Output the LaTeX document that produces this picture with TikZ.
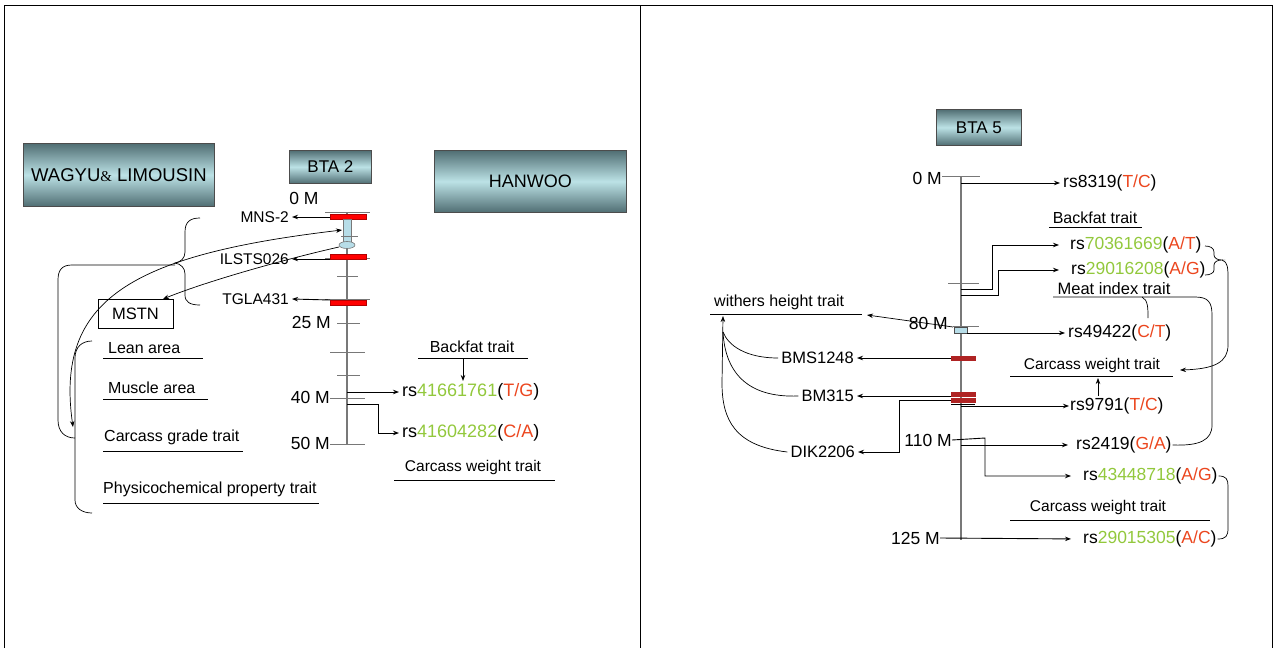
\documentclass[tikz,border=0pt]{standalone}
\usepackage{fontspec}
\setmainfont{Liberation Sans}
\newfontfamily\serifamp{Liberation Serif}
\usetikzlibrary{arrows.meta}
\definecolor{boxdark}{RGB}{80,110,115}
\definecolor{boxlight}{RGB}{188,226,230}
\definecolor{chrgray}{RGB}{120,120,120}
\definecolor{lblue}{RGB}{183,221,232}
\definecolor{darkbar}{RGB}{175,35,35}
\definecolor{snpgreen}{RGB}{146,200,60}
\definecolor{snpred}{RGB}{235,70,30}
\newcommand{\Gn}[1]{\textcolor{snpgreen}{#1}}
\newcommand{\Rd}[1]{\textcolor{snpred}{#1}}
\tikzset{
  gbox/.style={draw=black!70, line width=0.8pt, top color=boxdark, bottom color=boxdark, middle color=boxlight, anchor=north west, inner sep=0pt, font=\fontsize{17}{19}\selectfont},
  chr/.style={draw=chrgray, line width=1.3pt},
  tick/.style={draw=chrgray, line width=1pt},
  conn/.style={draw=black, line width=0.9pt},
  arr/.style={conn, -{Stealth[length=6pt,width=4.5pt]}},
  arrb/.style={conn, {Stealth[length=6pt,width=4.5pt]}-{Stealth[length=6pt,width=4.5pt]}},
  lbl/.style={inner sep=0pt, font=\fontsize{16}{18}\selectfont},
  mlbl/.style={inner xsep=3pt, inner ysep=0pt, font=\fontsize{15.5}{17}\selectfont},
  mk/.style={inner sep=0pt, font=\fontsize{17.5}{19}\selectfont},
  rs/.style={inner xsep=3pt, inner ysep=0pt, font=\fontsize{18}{20}\selectfont},
  rsr/.style={inner xsep=1pt, inner ysep=0pt, font=\fontsize{17.5}{19}\selectfont},
  uline/.style={draw=black, line width=0.8pt}
}
\begin{document}
\begin{tikzpicture}[x=1pt,y=-1pt]
\useasboundingbox (0,0) rectangle (1276,648);
% frame
\draw[line width=0.9pt] (4,648) -- (4,5) -- (1272,5) -- (1272,648);
\draw[line width=0.9pt] (640,5) -- (640,648);

% ---------------- LEFT PANEL ----------------
\node[gbox, minimum width=191pt, minimum height=63pt, font=\fontsize{18.5}{20}\selectfont] (wagyu) at (23,143) {WAGYU{\serifamp\fontsize{15}{16}\selectfont\&} LIMOUSIN};
\node[gbox, minimum width=82pt, minimum height=33pt] (bta2) at (289,150) {BTA 2};
\node[gbox, minimum width=192pt, minimum height=62pt, font=\fontsize{18}{20}\selectfont] (hanwoo) at (434,150) {HANWOO};

% chromosome BTA2
\draw[chr] (347,212) -- (347,444);
\draw[tick] (325,212) -- (370,212);
\draw[tick] (325,258) -- (370,258);
\draw[tick] (325,299) -- (370,299);
\draw[tick] (337,276) -- (358,276);
\draw[tick] (337,323) -- (360,323);
\draw[tick] (330,352) -- (365,352);
\draw[tick] (337,375) -- (360,375);
\draw[tick] (330,398) -- (365,398);
\draw[tick] (330,444) -- (365,444);
\filldraw[fill=red, draw=red!70!black, line width=0.4pt] (330,214) rectangle (366,219);
\filldraw[fill=red, draw=red!70!black, line width=0.4pt] (330,254) rectangle (366,259);
\filldraw[fill=red, draw=red!70!black, line width=0.4pt] (330,300) rectangle (366,305);
\filldraw[fill=lblue, draw=chrgray, line width=0.6pt] (343,219) rectangle (351,242);
\draw[tick] (341,236) -- (358,236);
\filldraw[fill=lblue, draw=chrgray, line width=0.6pt] (347,245) ellipse [x radius=8, y radius=3.5];
\coordinate (ell) at (339,247);
\coordinate (bar) at (342,230);

% position labels
\node[mk] (m0) at (304,198) {0 M};
\node[mk, anchor=east] (m25) at (331,322) {25 M};
\node[mk, anchor=east] (m40) at (330,397) {40 M};
\node[mk, anchor=east] (m50) at (330,443) {50 M};

% markers
\node[mlbl, anchor=east] (mns) at (292,217) {MNS-2};
\node[mlbl, anchor=east] (ilsts) at (292,259) {ILSTS026};
\node[mlbl, anchor=east] (tgla) at (292,299) {TGLA431};
\draw[arr] (330,217) -- (mns.east);
\draw[arr] (330,259) -- (ilsts.east);
\draw[arr] (330,300) -- (tgla.east);

% SNPs
\node[rs, anchor=west] (rsA) at (399,392) {rs\Gn{41661761}(\Rd{T/G})};
\node[rs, anchor=west] (rsB) at (399,433) {rs\Gn{41604282}(\Rd{C/A})};
\draw[arr] (347,392) -- (rsA.west);
\draw[arr] (347,404) -- (378,404) -- (378,433) -- (rsB.west);

\node[lbl] (bfL) at (472,347) {Backfat trait};
\draw[uline] (418,358) -- (528,358);
\coordinate (bfLu) at (463,359);
\coordinate (bfLt) at (463,381);
\draw[arr] (bfLu) -- (bfLt);
\node[lbl, font=\fontsize{15.5}{17}\selectfont] (cwL) at (473,467) {Carcass weight trait};
\draw[uline] (394,480) -- (555,480);

% MSTN and traits
\node[draw, line width=0.8pt, minimum width=75pt, minimum height=29pt, inner sep=0pt, font=\fontsize{16.5}{18}\selectfont] (mstn) at (135.5,313.5) {MSTN};
\coordinate (mstnt) at (163,299);
\node[lbl, anchor=west] (lean) at (108,348) {Lean area};
\draw[uline] (103,358) -- (203,358);
\node[lbl, anchor=west] (muscle) at (108,388) {Muscle area};
\draw[uline] (103,399) -- (208,399);
\node[lbl, anchor=west] (cgrade) at (104,437) {Carcass grade trait};
\draw[uline] (103,451) -- (243,451);
\node[lbl, anchor=west] (phys) at (103,489) {Physicochemical property trait};
\draw[uline] (103,503) -- (319,503);

% braces and brackets
\draw[conn, line width=0.7pt] (200,218) .. controls (190,218) and (185,222) .. (185,232) -- (185,252) .. controls (185,258) and (181,262) .. (175,263) .. controls (181,264) and (185,268) .. (185,274) -- (185,295) .. controls (185,302) and (190,305) .. (200,305);
\draw[conn, line width=0.7pt] (175,265) -- (72,265) .. controls (62,265) and (58,270) .. (58,280) -- (58,420) .. controls (58,432) and (65,438) .. (75,438);
\draw[conn, line width=0.7pt] (92,341) .. controls (82,341) and (75,347) .. (75,358) -- (75,500) .. controls (75,508) and (82,513) .. (92,513);
\coordinate (cgb) at (73,427);
\draw[arrb, line width=0.7pt] (cgb) .. controls (55,300) and (130,255) .. (bar);
\draw[arr, line width=0.7pt] (ell) .. controls (290,258) and (210,280) .. (mstnt);

% ---------------- RIGHT PANEL ----------------
\node[gbox, minimum width=85pt, minimum height=36pt] (bta5) at (936,109) {BTA 5};

\draw[chr] (961,176) -- (961,540);
\draw[tick] (942,176) -- (980,176);
\draw[tick] (948,283) -- (979,283);
\draw[tick] (953,326) -- (979,326);
\filldraw[fill=darkbar, draw=darkbar] (951,356.5) rectangle (975,360);
\filldraw[fill=darkbar, draw=darkbar] (951,392.5) rectangle (975,396);
\filldraw[fill=darkbar, draw=darkbar] (951,398.5) rectangle (975,402);
\draw[conn] (951,404.5) -- (975,404.5);
\filldraw[fill=lblue, draw=black!70, line width=0.6pt] (954,327) rectangle (967,333);

\node[mk, anchor=east] (n0) at (942,178) {0 M};
\node[mk, anchor=east] (n80) at (948,323) {80 M};
\node[mk, anchor=east] (n110) at (952,440) {110 M};
\node[mk, anchor=east] (n125) at (940,538) {125 M};

% SNP labels right
\node[rsr, anchor=west] (r8319) at (1062,183) {rs8319(\Rd{T/C})};
\node[rsr, anchor=west] (r703) at (1069,245) {rs\Gn{70361669}(\Rd{A/T})};
\node[rsr, anchor=west] (r290) at (1070,270) {rs\Gn{29016208}(\Rd{A/G})};
\node[rsr, anchor=west] (r494) at (1067,333) {rs49422(\Rd{C/T})};
\node[rsr, anchor=west] (r979) at (1069,406) {rs9791(\Rd{T/C})};
\node[rsr, anchor=west] (r241) at (1075,445) {rs2419(\Rd{G/A})};
\node[rsr, anchor=west] (r434) at (1082,476) {rs\Gn{43448718}(\Rd{A/G})};
\node[rsr, anchor=west] (r2915) at (1082,539) {rs\Gn{29015305}(\Rd{A/C})};

\draw[arr, shorten >=2pt] (961,183) -- (r8319.west);
\draw[arr, shorten >=10pt] (961,289) -- (992,289) -- (992,245) -- (r703.west);
\draw[arr, shorten >=11pt] (961,295) -- (998,295) -- (998,270) -- (r290.west);
\draw[arr, shorten >=2pt] (967,333) -- (r494.west);
\draw[arr] (961,406) -- (r979.west);
\draw[arr, shorten >=7pt] (961,445) -- (r241.west);
\draw[arr, shorten >=11pt] (n110.east) -- (985,438) -- (985,476) -- (r434.west);
\draw[arr, shorten >=11pt] (n125.east) -- (r2915.west);

% markers right
\node[mlbl, font=\fontsize{16.5}{18}\selectfont, anchor=east] (bms) at (857,358) {BMS1248};
\node[mlbl, font=\fontsize{16.5}{18}\selectfont, anchor=east] (bm315) at (857,396) {BM315};
\node[mlbl, font=\fontsize{16.5}{18}\selectfont, anchor=east] (dik) at (858,452) {DIK2206};
\draw[arr] (951,358) -- (bms.east);
\draw[arr] (951,396) -- (bm315.east);
\draw[arr] (951,400) -- (899,400) -- (899,452) -- (dik.east);

% withers height
\node[lbl, anchor=west] (withers) at (714,302) {withers height trait};
\draw[uline] (710,314) -- (862,314);
\coordinate (wtip) at (867,315);
\coordinate (wroot) at (723,332);
\coordinate (wup) at (723,316);
\draw[arr, line width=0.7pt] (953,327) -- (wtip);
\draw[conn, line width=0.7pt] (bms.west) .. controls (745,358) and (728,345) .. (wroot);
\draw[conn, line width=0.7pt] (bm315.west) .. controls (745,398) and (725,370) .. (wroot);
\draw[arr, line width=0.7pt] (dik.west) .. controls (735,446) and (722,420) .. (722,383) -- (wup);

% trait labels right
\node[lbl] (bfR) at (1095,218) {Backfat trait};
\draw[uline] (1049,227) -- (1142,227);
\node[lbl, font=\fontsize{16.5}{18}\selectfont] (meat) at (1114,289) {Meat index trait};
\draw[conn, line width=0.7pt] (1053,297) -- (1195,297) .. controls (1208,297) and (1212,302) .. (1212,315) -- (1212,425) .. controls (1212,440) and (1200,446) .. (r241.east);
\draw[conn, line width=0.7pt] (1142,297) .. controls (1148,300) and (1148,308) .. (1148,318);
\node[lbl, font=\fontsize{15.5}{17}\selectfont] (cwR1) at (1092,365) {Carcass weight trait};
\draw[uline] (1010,376) -- (1173,376);
\coordinate (cw1a) at (1098,396);
\coordinate (cw1b) at (1098,378);
\draw[arr, line width=0.7pt] (cw1a) -- (cw1b);
\node[lbl, font=\fontsize{15.5}{17}\selectfont] (cwR2) at (1098,507) {Carcass weight trait};
\draw[uline] (1010,520) -- (1210,520);

% braces right
\draw[conn, line width=0.7pt] (1205,246) .. controls (1210,246) and (1214,248) .. (1214,252) -- (1214,255) .. controls (1214,258) and (1217,260) .. (1222,260) .. controls (1217,260) and (1214,262) .. (1214,265) -- (1214,270) .. controls (1214,273) and (1210,275) .. (1205,275);
\coordinate (cwtip) at (1180,370);
\draw[arr, line width=0.7pt] (1222,260) .. controls (1228,262) and (1228,268) .. (1228,280) -- (1228,345) .. controls (1228,362) and (1215,369) .. (cwtip);
\draw[conn, line width=0.7pt] (r434.east) .. controls (1226,476) and (1228,479) .. (1228,486) -- (1228,528) .. controls (1228,536) and (1226,539) .. (r2915.east);
\end{tikzpicture}
\end{document}
